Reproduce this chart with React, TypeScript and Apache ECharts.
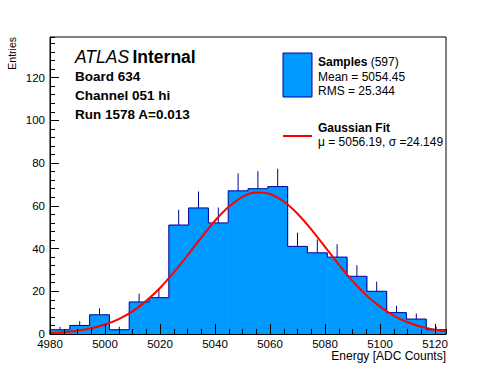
import { useEffect, useRef } from "react";
import * as echarts from "echarts";

// Histogram bins (ADC counts)
const binEdges = [
  4980, 4987.2, 4994.4, 5001.6, 5008.8, 5016, 5023.2, 5030.4, 5037.6, 5044.8,
  5052, 5059.2, 5066.4, 5073.6, 5080.8, 5088, 5095.2, 5102.4, 5109.6, 5116.8, 5124,
];
const counts = [2, 4, 9, 2, 15, 17, 51, 59, 52, 67, 68, 69, 41, 38, 36, 27, 20, 10, 7, 2];
const errors = [1.4, 2, 3, 1.4, 3.9, 4.1, 7.1, 7.7, 7.2, 8.2, 8.2, 8.3, 6.4, 6.2, 6, 5.2, 4.5, 3.2, 2.6, 1.4];

// Gaussian fit curve
const fitX = [
  4980, 4985, 4990, 4995, 5000, 5005, 5010, 5015, 5020, 5025, 5030, 5035, 5040, 5045, 5050,
  5055, 5060, 5065, 5070, 5075, 5080, 5085, 5090, 5095, 5100, 5105, 5110, 5115, 5120, 5124,
];
const fitY = [
  0.46, 0.86, 1.55, 2.68, 4.42, 7.0, 10.6, 15.5, 21.5, 28.8, 36.8, 45.1, 53.0, 59.5, 64.2,
  66.2, 65.5, 62.0, 56.3, 49.0, 40.8, 32.5, 24.9, 18.2, 12.8, 8.6, 5.5, 3.4, 2.0, 1.3,
];

const xMin = 4980;
const xMax = 5124;
const yMin = 0;
const yMax = 139;

const infoLines = ["Board 634", "Channel 051 hi", "Run 1578 A=0.013"];
const legendSamples = ["Mean = 5054.45", "RMS = 25.344"];
const legendFit = "\u03bc = 5056.19, \u03c3 =24.149";

const FONT = "'Liberation Sans', Arial, Helvetica, sans-serif";
const FILL = "#0099ff";
const EDGE = "#000099";

export default function App() {
  const ref = useRef<HTMLDivElement>(null);

  useEffect(() => {
    if (!ref.current) return;
    const chart = echarts.init(ref.current, undefined, { renderer: "svg" });

    const histData = counts.map((c, i) => [
      binEdges[i],
      binEdges[i + 1],
      c,
      i > 0 ? counts[i - 1] : 0,
      errors[i],
      i === counts.length - 1 ? 1 : 0,
    ]);

    const axisCommon = {
      type: "value" as const,
      z: 10,
      splitLine: { show: false },
    };

    const option: any = {
      animation: false,
      backgroundColor: "#ffffff",
      grid: {
        left: 50,
        right: 50,
        top: 37,
        bottom: 38,
        show: true,
        borderColor: "#000",
        borderWidth: 1,
        backgroundColor: "transparent",
        containLabel: false,
      },
      xAxis: [
        {
          ...axisCommon,
          min: xMin,
          max: xMax,
          interval: 20,
          position: "bottom",
          axisLine: { show: true, onZero: false, lineStyle: { color: "#000", width: 1 } },
          axisTick: { show: true, inside: true, length: 10, lineStyle: { color: "#000", width: 1 } },
          axisLabel: {
            show: true,
            color: "#000",
            fontSize: 11.5,
            fontFamily: FONT,
            margin: 4,
            showMaxLabel: false,
            showMinLabel: true,
            formatter: (v: number) => String(v),
          },
        },
        {
          ...axisCommon,
          min: xMin,
          max: xMax,
          interval: 5,
          position: "bottom",
          axisLine: { show: false },
          axisTick: { show: true, inside: true, length: 5, lineStyle: { color: "#000", width: 1 } },
          axisLabel: { show: false },
        },
      ],
      yAxis: [
        {
          ...axisCommon,
          min: yMin,
          max: yMax,
          interval: 20,
          position: "left",
          axisLine: { show: true, onZero: false, lineStyle: { color: "#000", width: 1 } },
          axisTick: { show: true, inside: true, length: 9, lineStyle: { color: "#000", width: 1 } },
          axisLabel: {
            show: true,
            color: "#000",
            fontSize: 11.5,
            fontFamily: FONT,
            margin: 5,
            showMaxLabel: false,
            formatter: (v: number) => String(v),
          },
        },
        {
          ...axisCommon,
          min: yMin,
          max: yMax,
          interval: 4,
          position: "left",
          axisLine: { show: false },
          axisTick: { show: true, inside: true, length: 5, lineStyle: { color: "#000", width: 1 } },
          axisLabel: { show: false },
        },
      ],
      series: [
        {
          type: "custom",
          xAxisIndex: 0,
          yAxisIndex: 0,
          z: 2,
          clip: false,
          dimensions: ["lo", "hi", "n", "prev", "err", "last"],
          encode: { x: [0, 1], y: 2 },
          data: histData,
          renderItem: (_params: any, api: any) => {
            const lo = api.value(0);
            const hi = api.value(1);
            const n = api.value(2);
            const prev = api.value(3);
            const err = api.value(4);
            const last = api.value(5);
            const base = api.coord([lo, 0]);
            const top = api.coord([hi, n]);
            const prevPt = api.coord([lo, prev]);
            const mid = (lo + hi) / 2;
            const e0 = api.coord([mid, n]);
            const e1 = api.coord([mid, n + err]);
            const stroke = { stroke: EDGE, lineWidth: 1, fill: null };
            const children: any[] = [
              {
                type: "rect",
                shape: {
                  x: base[0],
                  y: top[1],
                  width: top[0] - base[0] + (last ? 0 : 0.6),
                  height: base[1] - top[1],
                },
                style: { fill: FILL },
              },
              { type: "line", shape: { x1: e0[0], y1: e0[1], x2: e1[0], y2: e1[1] }, style: stroke },
              { type: "line", shape: { x1: base[0], y1: top[1], x2: top[0], y2: top[1] }, style: stroke },
              { type: "line", shape: { x1: base[0], y1: prevPt[1], x2: base[0], y2: top[1] }, style: stroke },
            ];
            if (last) {
              children.push({
                type: "line",
                shape: { x1: top[0], y1: top[1], x2: top[0], y2: base[1] },
                style: stroke,
              });
            }
            return { type: "group", children };
          },
        },
        {
          type: "line",
          xAxisIndex: 0,
          yAxisIndex: 0,
          z: 4,
          data: fitX.map((x, i) => [x, fitY[i]]),
          smooth: 0.3,
          showSymbol: false,
          symbol: "none",
          lineStyle: { color: "#ff0000", width: 2 },
        },
      ],
      graphic: [
        {
          type: "text",
          x: 75,
          y: 57,
          style: {
            text: "{i|ATLAS} {b|Internal}",
            verticalAlign: "middle",
            align: "left",
            rich: {
              i: { fontStyle: "italic", fontSize: 17.5, fontFamily: FONT, fill: "#000", color: "#000" },
              b: { fontWeight: "bold", fontSize: 17.5, fontFamily: FONT, fill: "#000", color: "#000" },
            },
          },
        },
        ...infoLines.map((t, i) => ({
          type: "text",
          x: 75,
          y: 76.5 + i * 19,
          style: {
            text: t,
            font: `bold 13.5px ${FONT}`,
            fill: "#000",
            verticalAlign: "middle",
            align: "left",
          },
        })),
        {
          type: "rect",
          shape: { x: 283, y: 53, width: 29, height: 44 },
          style: { fill: FILL, stroke: EDGE, lineWidth: 1 },
        },
        {
          type: "text",
          x: 318,
          y: 62,
          style: {
            text: "{b|Samples} {r|(597)}",
            verticalAlign: "middle",
            align: "left",
            rich: {
              b: { fontWeight: "bold", fontSize: 12, fontFamily: FONT, fill: "#000", color: "#000" },
              r: { fontSize: 12, fontFamily: FONT, fill: "#000", color: "#000" },
            },
          },
        },
        ...legendSamples.map((t, i) => ({
          type: "text",
          x: 318,
          y: 77 + i * 14,
          style: { text: t, font: `12px ${FONT}`, fill: "#000", verticalAlign: "middle", align: "left" },
        })),
        {
          type: "line",
          shape: { x1: 283, y1: 136, x2: 312, y2: 136 },
          style: { stroke: "#ff0000", lineWidth: 2 },
        },
        {
          type: "text",
          x: 318,
          y: 128,
          style: {
            text: "Gaussian Fit",
            font: `bold 12px ${FONT}`,
            fill: "#000",
            verticalAlign: "middle",
            align: "left",
          },
        },
        {
          type: "text",
          x: 318,
          y: 142,
          style: { text: legendFit, font: `12px ${FONT}`, fill: "#000", verticalAlign: "middle", align: "left" },
        },
        {
          type: "text",
          x: 12,
          y: 37,
          rotation: Math.PI / 2,
          style: {
            text: "Entries",
            font: `10.5px ${FONT}`,
            fill: "#000",
            verticalAlign: "middle",
            align: "right",
          },
        },
        {
          type: "text",
          x: 446,
          y: 356,
          style: {
            text: "Energy [ADC Counts]",
            font: `12px ${FONT}`,
            fill: "#000",
            verticalAlign: "middle",
            align: "right",
          },
        },
      ],
    };

    chart.setOption(option);
    return () => {
      chart.dispose();
    };
  }, []);

  return (
    <div
      ref={ref}
      style={{ position: "fixed", left: 0, top: 0, width: 496, height: 372, background: "#fff" }}
    />
  );
}
